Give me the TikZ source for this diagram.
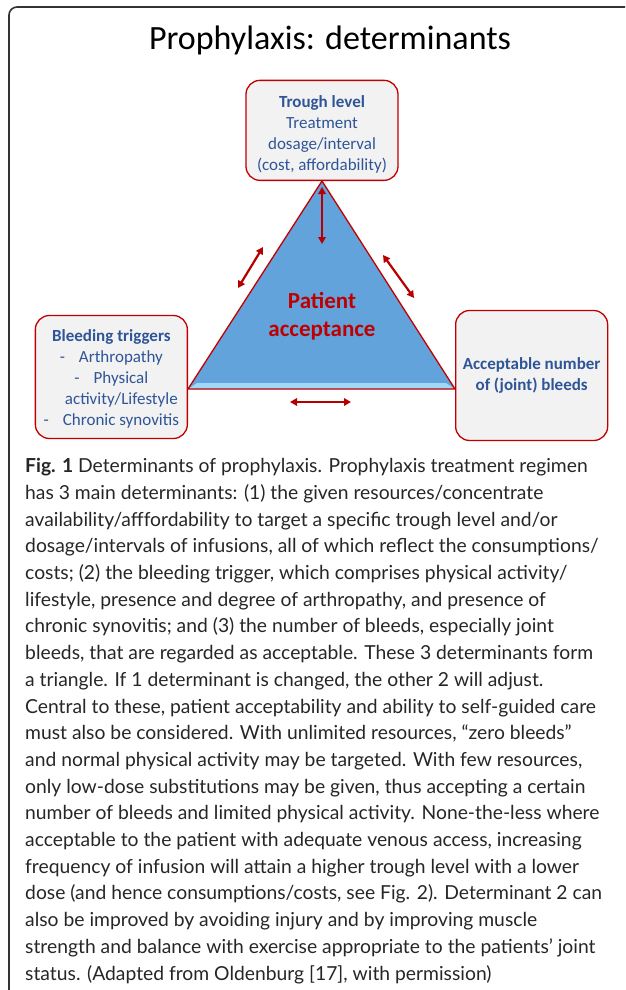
\documentclass[tikz,border=0pt]{standalone}
\usepackage{fontspec}
\setmainfont{Carlito}
\newfontfamily\capfont{Lato}
\usetikzlibrary{positioning,arrows.meta}
\definecolor{boxred}{RGB}{192,0,0}
\definecolor{txtblue}{RGB}{47,85,151}
\definecolor{trifill}{RGB}{98,163,220}
\definecolor{bevel}{RGB}{160,216,245}
\definecolor{boxgray}{RGB}{242,242,242}
\definecolor{arrred}{RGB}{182,0,0}

\begin{document}
\begin{tikzpicture}[x=1pt,y=-1pt,
det/.style={draw=boxred,fill=boxgray,line width=1.3pt,rounded corners=14pt,minimum width=152pt,align=center,text=txtblue,inner sep=0pt,font=\fontsize{17}{21}\selectfont},
link/.style={{Triangle[length=7pt,width=7.5pt]}-{Triangle[length=7pt,width=7.5pt]},draw=arrred,line width=2.2pt}]

\useasboundingbox (0,0) rectangle (625,990);
\clip (0,0) rectangle (625,990);
\draw[line width=1.6pt,draw=black!80,rounded corners=8pt] (9,1200) -- (9,7) -- (800,7);

\node[font=\fontsize{34}{40}\selectfont,anchor=base](title) at (330,50){Prophylaxis: determinants};

\coordinate (apex) at (322,181);
\coordinate (lv) at (188,389);
\coordinate (rv) at (455,389);

\fill[trifill] (apex) -- (lv) -- (rv) -- cycle;
\fill[bevel] (lv) -- (197,383) -- (446,383) -- (rv) -- cycle;
\draw[boxred,line width=1.3pt,line join=round] (apex) -- (lv) -- (rv) -- cycle;
\node[text=boxred,font=\bfseries\fontsize{23}{28}\selectfont,align=center](pat) at (322,316){Patient\\acceptance};

\node[det,minimum height=100pt,above=0pt of apex](trough){\rule{0pt}{20pt}\textbf{Trough level}\\Treatment\\dosage/interval\\(cost, affordability)};
\node[det,minimum height=123pt,left=0pt of lv,yshift=12pt](trig){\rule{0pt}{16pt}\textbf{Bleeding triggers}\\-\hspace{14pt}Arthropathy\\-\hspace{14pt}Physical\\\hspace*{20pt}activity/Lifestyle\\-\hspace{14pt}Chronic synovitis};
\node[det,minimum height=130pt,right=0pt of rv,yshift=13.5pt](bleeds){\textbf{Acceptable number}\\\textbf{of (joint) bleeds}};

\coordinate (a1) at (322,187);
\coordinate (a2) at (322,244);
\coordinate (l1) at (238,288);
\coordinate (l2) at (263,247);
\coordinate (r1) at (383,255);
\coordinate (r2) at (414,298);
\coordinate (b1) at (290,402);
\coordinate (b2) at (351,402);
\draw[link] (a1) -- (a2);
\draw[link] (l1) -- (l2);
\draw[link] (r1) -- (r2);
\draw[link] (b1) -- (b2);

\node[anchor=base west,align=left,inner sep=0pt,text=black!85,font=\capfont\fontsize{19.3}{26.7}\selectfont](cap) at (25,980){\textbf{Fig. 1} Determinants of prophylaxis. Prophylaxis treatment regimen\\
has 3 main determinants: (1) the given resources/concentrate\\
availability/afffordability to target a specific trough level and/or\\
dosage/intervals of infusions, all of which reflect the consumptions/\\
costs; (2) the bleeding trigger, which comprises physical activity/\\
lifestyle, presence and degree of arthropathy, and presence of\\
chronic synovitis; and (3) the number of bleeds, especially joint\\
bleeds, that are regarded as acceptable. These 3 determinants form\\
a triangle. If 1 determinant is changed, the other 2 will adjust.\\
Central to these, patient acceptability and ability to self-guided care\\
must also be considered. With unlimited resources, “zero bleeds”\\
and normal physical activity may be targeted. With few resources,\\
only low-dose substitutions may be given, thus accepting a certain\\
number of bleeds and limited physical activity. None-the-less where\\
acceptable to the patient with adequate venous access, increasing\\
frequency of infusion will attain a higher trough level with a lower\\
dose (and hence consumptions/costs, see Fig. 2). Determinant 2 can\\
also be improved by avoiding injury and by improving muscle\\
strength and balance with exercise appropriate to the patients’ joint\\
status. (Adapted from Oldenburg [17], with permission)};

\end{tikzpicture}
\end{document}
